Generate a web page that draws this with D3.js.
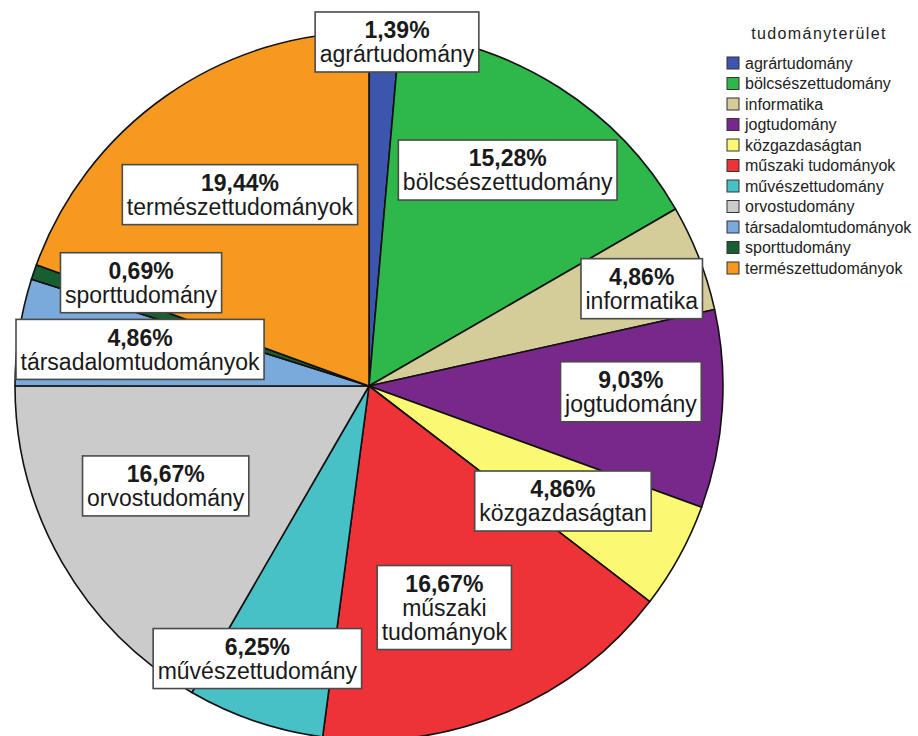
<!DOCTYPE html>
<html>
<head>
<meta charset="utf-8">
<script src="https://cdn.jsdelivr.net/npm/d3@7"></script>
<style>
  html, body { margin: 0; padding: 0; background: #fff; }
  svg { display: block; font-family: "Liberation Sans", Arial, sans-serif; }
</style>
</head>
<body>
<svg id="chart" width="918" height="736"></svg>
<script>
// Share of each field of science (percent of all respondents)
const categories = [
  "agrártudomány", "bölcsészettudomány", "informatika", "jogtudomány",
  "közgazdaságtan", "műszaki tudományok", "művészettudomány", "orvostudomány",
  "társadalomtudományok", "sporttudomány", "természettudományok"
];
const shares = [1.39, 15.28, 4.86, 9.03, 4.86, 16.67, 6.25, 16.67, 4.86, 0.69, 19.44];
const sliceColors = [
  "#3d56ad", "#2fb84a", "#d4cd99", "#78278b",
  "#fbf872", "#ee3338", "#47c1c6", "#cbcbcb",
  "#7aa9dc", "#175e31", "#f7991f"
];
const legendTitle = "tudományterület";

// Label placement: angular nudge (degrees) from the slice middle, and distance as a share of the radius
const labelTurn  = [2.15, 0.2, 1.6, -2.5, 1.9, 3.7, 3.5, 3.8, 0.3, 5.6, 1.0];
const labelReach = [0.975, 0.725, 0.818, 0.740, 0.637, 0.661, 0.832, 0.640, 0.655, 0.707, 0.652];

const svg = d3.select("#chart");
const cx = 369, cy = 386, radius = 354;

const rows = categories.map((c, i) => ({ name: c, value: shares[i], color: sliceColors[i], i }));

const pie = d3.pie().sort(null).value(d => d.value);
const arcs = pie(rows);
const arc = d3.arc().innerRadius(0).outerRadius(radius);

const color = d3.scaleOrdinal().domain(categories).range(sliceColors);

const g = svg.append("g").attr("transform", `translate(${cx},${cy})`);

g.selectAll("path.slice")
  .data(arcs)
  .join("path")
  .attr("class", "slice")
  .attr("d", arc)
  .attr("fill", d => color(d.data.name))
  .attr("stroke", "#111")
  .attr("stroke-width", 1.6)
  .attr("stroke-linejoin", "round");

// Hungarian number format: decimal comma
const huLocale = d3.formatLocale({ decimal: ",", thousands: " ", grouping: [3], currency: ["", " Ft"] });
const pct = v => huLocale.format(".2f")(v) + "%";

const lineGap = 24;
const labels = g.selectAll("g.lbl")
  .data(arcs)
  .join("g")
  .attr("class", "lbl")
  .attr("transform", d => {
    const mid = (d.startAngle + d.endAngle) / 2 + labelTurn[d.data.i] * Math.PI / 180;
    const r = labelReach[d.data.i] * radius;
    return `translate(${r * Math.sin(mid)},${-r * Math.cos(mid)})`;
  });

labels.each(function(d) {
  const sel = d3.select(this);
  const lines = [{ t: pct(d.data.value), bold: true }]
    .concat(d.data.name.split(" ").map(t => ({ t, bold: false })));
  const n = lines.length;
  const box = sel.append("rect")
    .attr("fill", "#fff")
    .attr("stroke", "#4a4a4a")
    .attr("stroke-width", 1.6);
  let maxW = 0;
  lines.forEach((ln, k) => {
    const txt = sel.append("text")
      .attr("text-anchor", "middle")
      .attr("x", 0)
      .attr("y", (k - (n - 1) / 2) * lineGap)
      .attr("dy", "0.36em")
      .attr("font-size", 23)
      .attr("font-weight", ln.bold ? "bold" : "normal")
      .attr("fill", "#1a1a1a")
      .text(ln.t);
    maxW = Math.max(maxW, txt.node().getComputedTextLength());
  });
  const w = maxW + 9, h = n * lineGap + 12;
  box.attr("x", -w / 2).attr("y", -h / 2).attr("width", w).attr("height", h);
});

// Legend
const legend = svg.append("g").attr("transform", "translate(727,0)");
legend.append("text")
  .attr("x", 92)
  .attr("y", 33)
  .attr("dy", "0.35em")
  .attr("text-anchor", "middle")
  .attr("font-size", 16)
  .attr("letter-spacing", 1.4)
  .attr("fill", "#222")
  .text(legendTitle);

const y = d3.scalePoint().domain(categories).range([63, 268]);
const items = legend.selectAll("g.item")
  .data(categories)
  .join("g")
  .attr("class", "item")
  .attr("transform", d => `translate(0,${y(d)})`);
items.append("rect")
  .attr("x", 0).attr("y", -6)
  .attr("width", 12).attr("height", 12)
  .attr("fill", d => color(d))
  .attr("stroke", "#333")
  .attr("stroke-width", 1);
items.append("text")
  .attr("x", 18)
  .attr("y", 0)
  .attr("dy", "0.35em")
  .attr("font-size", 16)
  .attr("fill", "#222")
  .text(d => d);
</script>
</body>
</html>
